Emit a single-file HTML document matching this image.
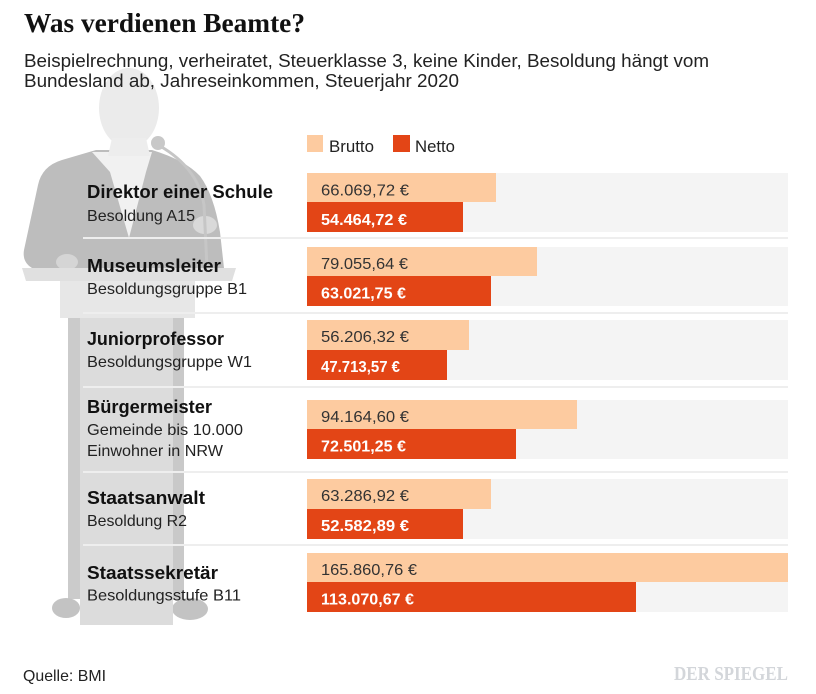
<!DOCTYPE html>
<html>
<head>
<meta charset="utf-8">
<style>
  html, body { margin: 0; padding: 0; background: #ffffff; }
  body { width: 816px; height: 694px; overflow: hidden; }
  svg { display: block; }
  .sans { font-family: "Liberation Sans", Arial, sans-serif; }
  .serif { font-family: "Liberation Serif", "Times New Roman", serif; }
</style>
</head>
<body>
<svg width="816" height="694" viewBox="0 0 816 694" xmlns="http://www.w3.org/2000/svg">
  <rect x="0" y="0" width="816" height="694" fill="#ffffff"/>

  <!-- Silhouette -->
  <g>
    <!-- head -->
    <ellipse cx="129" cy="108" rx="30" ry="40" fill="#ebebeb"/>
    <!-- jacket -->
    <path d="M 96,150 L 62,160 Q 42,166 38,185 L 24,250 Q 22,262 32,268 L 224,268 L 220,232 Q 214,195 200,176 Q 185,160 152,150 Z" fill="#bdbdbd"/>
    <!-- shirt V -->
    <path d="M 92,152 L 152,152 L 146,172 L 129,238 L 110,172 Z" fill="#f1f1f1"/>
    <!-- neck -->
    <path d="M 112,138 L 146,138 L 150,156 L 108,156 Z" fill="#ededed"/>
    <!-- hands -->
    <ellipse cx="205" cy="225" rx="12" ry="9" fill="#d9d9d9"/>
    <ellipse cx="67" cy="262" rx="11" ry="8" fill="#d5d5d5"/>
    <!-- microphone -->
    <path d="M 160,146 Q 198,168 204,205 L 207,268" fill="none" stroke="#c6c6c6" stroke-width="3"/>
    <circle cx="158" cy="143" r="7" fill="#c8c8c8"/>
    <!-- podium -->
    <rect x="68" y="281" width="12" height="318" fill="#cbcbcb"/>
    <rect x="173" y="300" width="11" height="300" fill="#c9c9c9"/>
    <ellipse cx="66" cy="608" rx="14" ry="10" fill="#c3c3c3"/>
    <ellipse cx="190" cy="609" rx="18" ry="11" fill="#c3c3c3"/>
    <rect x="80" y="316" width="93" height="309" fill="#dcdcdc"/>
    <rect x="60" y="280" width="135" height="38" fill="#e7e7e7"/>
    <polygon points="22,268 236,268 232,281 26,281" fill="#e0e0e0"/>
  </g>

  <!-- Title -->
  <text class="serif" x="24" y="32" font-size="27" font-weight="bold" fill="#111111" textLength="281" lengthAdjust="spacingAndGlyphs">Was verdienen Beamte?</text>
  <!-- Subtitle -->
  <text class="sans" x="24" y="67" font-size="18.8" fill="#222222" textLength="685" lengthAdjust="spacingAndGlyphs">Beispielrechnung, verheiratet, Steuerklasse 3, keine Kinder, Besoldung hängt vom</text>
  <text class="sans" x="24" y="87" font-size="18.8" fill="#222222" textLength="435" lengthAdjust="spacingAndGlyphs">Bundesland ab, Jahreseinkommen, Steuerjahr 2020</text>

  <!-- Legend -->
  <rect x="307" y="135" width="16" height="17" fill="#fdcba0"/>
  <text class="sans" x="329" y="152" font-size="17" fill="#222222" textLength="45" lengthAdjust="spacingAndGlyphs">Brutto</text>
  <rect x="393" y="135" width="17" height="17" fill="#e34516"/>
  <text class="sans" x="415" y="152" font-size="17" fill="#222222" textLength="40" lengthAdjust="spacingAndGlyphs">Netto</text>

  <!-- Separators -->
  <g fill="#eeeeee">
    <rect x="83" y="237" width="705" height="2"/>
    <rect x="83" y="312" width="705" height="2"/>
    <rect x="83" y="386" width="705" height="2"/>
    <rect x="83" y="471" width="705" height="2"/>
    <rect x="83" y="544" width="705" height="2"/>
  </g>

  <!-- Tracks -->
  <g fill="#f4f4f4">
    <rect x="307" y="173" width="481" height="59"/>
    <rect x="307" y="247" width="481" height="59"/>
    <rect x="307" y="320" width="481" height="60"/>
    <rect x="307" y="400" width="481" height="59"/>
    <rect x="307" y="479" width="481" height="60"/>
    <rect x="307" y="553" width="481" height="59"/>
  </g>

  <!-- Brutto bars -->
  <g fill="#fdcba0">
    <rect x="307" y="173" width="189" height="29"/>
    <rect x="307" y="247" width="230" height="29"/>
    <rect x="307" y="320" width="162" height="30"/>
    <rect x="307" y="400" width="270" height="29"/>
    <rect x="307" y="479" width="184" height="30"/>
    <rect x="307" y="553" width="481" height="29"/>
  </g>
  <!-- Netto bars -->
  <g fill="#e34516">
    <rect x="307" y="202" width="156" height="30"/>
    <rect x="307" y="276" width="184" height="30"/>
    <rect x="307" y="350" width="140" height="30"/>
    <rect x="307" y="429" width="209" height="30"/>
    <rect x="307" y="509" width="156" height="30"/>
    <rect x="307" y="582" width="329" height="30"/>
  </g>

  <!-- Brutto values -->
  <g class="sans" font-size="16" fill="#333333">
    <text x="321" y="195.5" textLength="88" lengthAdjust="spacingAndGlyphs">66.069,72 €</text>
    <text x="321" y="269" textLength="87" lengthAdjust="spacingAndGlyphs">79.055,64 €</text>
    <text x="321" y="342" textLength="88" lengthAdjust="spacingAndGlyphs">56.206,32 €</text>
    <text x="321" y="422" textLength="88" lengthAdjust="spacingAndGlyphs">94.164,60 €</text>
    <text x="321" y="501" textLength="88" lengthAdjust="spacingAndGlyphs">63.286,92 €</text>
    <text x="321" y="575" textLength="96" lengthAdjust="spacingAndGlyphs">165.860,76 €</text>
  </g>
  <!-- Netto values -->
  <g class="sans" font-size="16" font-weight="bold" fill="#ffffff">
    <text x="321" y="225" textLength="86" lengthAdjust="spacingAndGlyphs">54.464,72 €</text>
    <text x="321" y="298.5" textLength="85" lengthAdjust="spacingAndGlyphs">63.021,75 €</text>
    <text x="321" y="372" textLength="79" lengthAdjust="spacingAndGlyphs">47.713,57 €</text>
    <text x="321" y="451.5" textLength="85" lengthAdjust="spacingAndGlyphs">72.501,25 €</text>
    <text x="321" y="531" textLength="88" lengthAdjust="spacingAndGlyphs">52.582,89 €</text>
    <text x="321" y="604.5" textLength="93" lengthAdjust="spacingAndGlyphs">113.070,67 €</text>
  </g>

  <!-- Row labels -->
  <g class="sans" font-size="18" font-weight="bold" fill="#111111">
    <text x="87" y="198" textLength="186" lengthAdjust="spacingAndGlyphs">Direktor einer Schule</text>
    <text x="87" y="272" textLength="134" lengthAdjust="spacingAndGlyphs">Museumsleiter</text>
    <text x="87" y="345" textLength="137" lengthAdjust="spacingAndGlyphs">Juniorprofessor</text>
    <text x="87" y="413" textLength="125" lengthAdjust="spacingAndGlyphs">Bürgermeister</text>
    <text x="87" y="504" textLength="118" lengthAdjust="spacingAndGlyphs">Staatsanwalt</text>
    <text x="87" y="579" textLength="131" lengthAdjust="spacingAndGlyphs">Staatssekretär</text>
  </g>
  <g class="sans" font-size="16" fill="#222222">
    <text x="87" y="221" textLength="108" lengthAdjust="spacingAndGlyphs">Besoldung A15</text>
    <text x="87" y="294" textLength="160" lengthAdjust="spacingAndGlyphs">Besoldungsgruppe B1</text>
    <text x="87" y="367" textLength="165" lengthAdjust="spacingAndGlyphs">Besoldungsgruppe W1</text>
    <text x="87" y="435" textLength="156" lengthAdjust="spacingAndGlyphs">Gemeinde bis 10.000</text>
    <text x="87" y="456" textLength="136" lengthAdjust="spacingAndGlyphs">Einwohner in NRW</text>
    <text x="87" y="526" textLength="100" lengthAdjust="spacingAndGlyphs">Besoldung R2</text>
    <text x="87" y="600.5" textLength="154" lengthAdjust="spacingAndGlyphs">Besoldungsstufe B11</text>
  </g>

  <!-- Source -->
  <text class="sans" x="23" y="681" font-size="16" fill="#222222" textLength="83" lengthAdjust="spacingAndGlyphs">Quelle: BMI</text>

  <!-- Logo -->
  <text class="serif" x="674" y="680" font-size="20" font-weight="bold" fill="#d3d6da" textLength="114" lengthAdjust="spacingAndGlyphs">DER SPIEGEL</text>
</svg>
</body>
</html>
